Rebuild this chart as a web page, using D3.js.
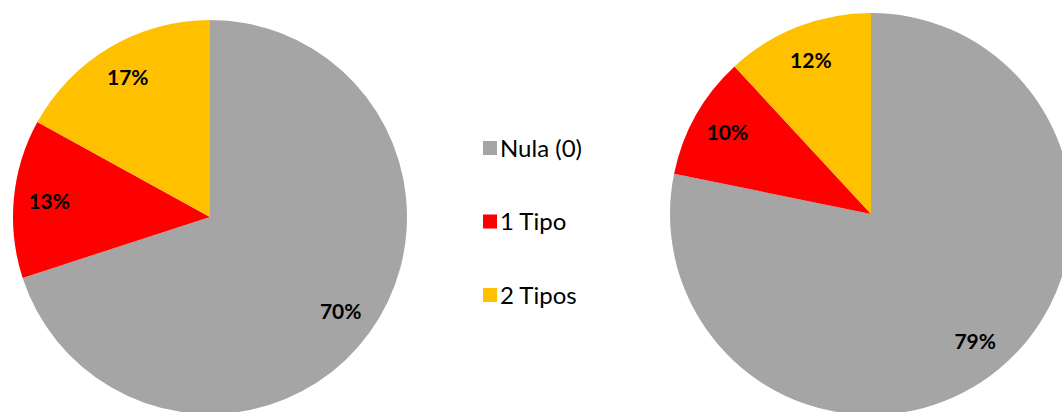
<!DOCTYPE html>
<html>
<head>
<meta charset="utf-8">
<script src="https://cdn.jsdelivr.net/npm/d3@7"></script>
<style>
  html, body { margin: 0; padding: 0; background: #ffffff; }
  svg { display: block; }
</style>
</head>
<body>
<svg id="chart" width="1062" height="412"></svg>
<script>
const categories = ["Nula (0)", "1 Tipo", "2 Tipos"];
const leftValues = [70, 13, 17];
const rightValues = [79, 10, 12];
const labelsLeft = ["70%", "13%", "17%"];
const labelsRight = ["79%", "10%", "12%"];
const colors = ["#A5A5A5", "#FF0000", "#FFC000"];

const svg = d3.select("#chart");
const color = d3.scaleOrdinal().domain(categories).range(colors);
const pie = d3.pie().sort(null).value(d => d.value);

function drawPie(cx, cy, r, values, labels) {
  const data = categories.map((c, i) => ({ cat: c, value: values[i], label: labels[i] }));
  const arcs = pie(data);
  const arc = d3.arc().innerRadius(0).outerRadius(r);
  const labelArc = d3.arc().innerRadius(r * 0.82).outerRadius(r * 0.82);
  const g = svg.append("g").attr("transform", `translate(${cx},${cy})`);
  g.selectAll("path").data(arcs).join("path")
    .attr("d", arc)
    .attr("fill", d => color(d.data.cat));
  g.selectAll("text").data(arcs).join("text")
    .attr("transform", d => `translate(${labelArc.centroid(d)})`)
    .attr("text-anchor", "middle")
    .attr("dy", "0.35em")
    .attr("font-family", "Lato, 'Open Sans', sans-serif")
    .attr("font-weight", "bold")
    .attr("font-size", 21)
    .attr("fill", "#000")
    .text(d => d.data.label);
}

drawPie(210, 217, 197, leftValues, labelsLeft);
drawPie(871, 214, 201, rightValues, labelsRight);

// legend
const legendY = d3.scalePoint().domain(categories).range([148, 295]);
const lg = svg.append("g");
const items = lg.selectAll("g").data(categories).join("g")
  .attr("transform", d => `translate(483,${legendY(d)})`);
items.append("rect")
  .attr("x", 0).attr("y", -7).attr("width", 14).attr("height", 14)
  .attr("fill", d => color(d));
items.append("text")
  .attr("x", 17).attr("dy", "0.36em")
  .attr("font-family", "Lato, 'Open Sans', sans-serif")
  .attr("font-size", 24)
  .attr("fill", "#000")
  .text(d => d);
</script>
</body>
</html>
